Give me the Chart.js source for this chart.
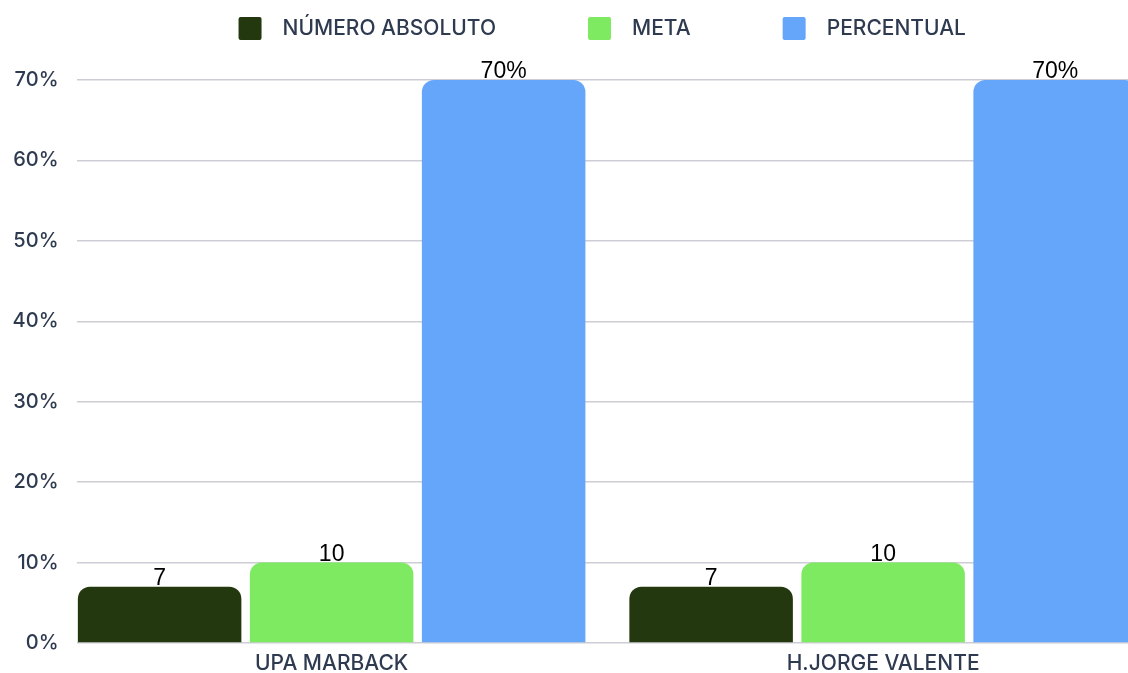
<!DOCTYPE html>
<html>
<head>
<meta charset="utf-8">
<title>Número absoluto x meta</title>
<script src="https://cdn.jsdelivr.net/npm/chart.js@4.4.1/dist/chart.umd.min.js"></script>
<style>
    html, body { margin: 0; padding: 0; background: #fff; overflow: hidden; }
    #wrap { position: relative; width: 1128px; height: 673px; }
</style>
</head>
<body>
<div id="wrap"><canvas id="chart"></canvas></div>
<script>
// dados do gráfico
const categories = ['UPA MARBACK', 'H.JORGE VALENTE'];
const seriesNames = ['NÚMERO ABSOLUTO', 'META', 'PERCENTUAL'];
const numeroAbsoluto = [7, 7];
const meta = [10, 10];
const percentual = [70, 70];
const yTicks = [0, 10, 20, 30, 40, 50, 60, 70];

const textColor = '#2e3a50';
const barColors = ['#24380f', '#7dea61', '#66a6fa'];

Chart.defaults.font.family = 'Inter, "Open Sans", sans-serif';
Chart.defaults.font.weight = '500';
Chart.defaults.color = textColor;

// rótulo em cima de cada barra
const barLabels = {
    id: 'barLabels',
    afterDatasetsDraw(chart) {
        const ctx = chart.ctx;
        ctx.save();
        ctx.font = '23px "Liberation Sans", Arial, sans-serif';
        ctx.fillStyle = '#000';
        ctx.textAlign = 'center';
        ctx.textBaseline = 'alphabetic';
        chart.data.datasets.forEach((ds, i) => {
            chart.getDatasetMeta(i).data.forEach((bar, j) => {
                const txt = ds.data[j].y + (i === 2 ? '%' : '');
                ctx.fillText(txt, bar.x, bar.y - 2);
            });
        });
        ctx.restore();
    }
};

const toPoints = arr => arr.map((v, i) => ({ x: i, y: v }));
const series = [numeroAbsoluto, meta, percentual];

const ctx = document.getElementById('chart').getContext('2d');
new Chart(ctx, {
    type: 'bar',
    data: {
        datasets: series.map((vals, i) => ({
            label: seriesNames[i],
            data: toPoints(vals),
            backgroundColor: barColors[i],
            borderRadius: 12,
            borderSkipped: 'start',
            categoryPercentage: 0.9357,
            barPercentage: 0.9506
        }))
    },
    options: {
        responsive: true,
        maintainAspectRatio: false,
        animation: false,
        events: [],
        layout: { padding: { top: -75, left: 0, right: 0, bottom: -12 } },
        plugins: {
            tooltip: { enabled: false },
            legend: {
                position: 'top',
                fullSize: false,
                labels: {
                    boxWidth: 23,
                    boxHeight: 23,
                    padding: 92,
                    useBorderRadius: true,
                    borderRadius: 2,
                    color: textColor,
                    font: { size: 21, weight: '500' },
                    generateLabels: chart => Chart.defaults.plugins.legend.labels.generateLabels(chart)
                        .map(l => ({ ...l, text: '\u2002' + l.text }))
                }
            },
            // espaço entre a legenda e o gráfico
            subtitle: {
                display: true,
                text: '',
                fullSize: false,
                weight: 500,
                font: { size: 10, lineHeight: 1 },
                padding: 10
            }
        },
        scales: {
            x: {
                type: 'linear',
                bounds: 'data',
                offset: false,
                min: -0.4626,
                max: 1.444,
                afterBuildTicks: s => { s.ticks = categories.map((c, i) => ({ value: i })); },
                grid: { display: false, drawTicks: false },
                border: { display: false },
                ticks: {
                    autoSkip: false,
                    maxRotation: 0,
                    padding: 8,
                    color: textColor,
                    font: { size: 21, weight: '500' },
                    callback: (v, i) => categories[i]
                }
            },
            y: {
                min: 0,
                max: 70,
                afterBuildTicks: s => { s.ticks = yTicks.map(v => ({ value: v })); },
                afterFit: s => { s.width = 76.5; },
                grid: { color: '#cdcdd5', lineWidth: 1.5, drawTicks: false },
                border: { display: false },
                ticks: {
                    padding: 18,
                    color: textColor,
                    font: { size: 20, weight: '500' },
                    callback: v => v + '%'
                }
            }
        }
    },
    plugins: [barLabels]
});
</script>
</body>
</html>
